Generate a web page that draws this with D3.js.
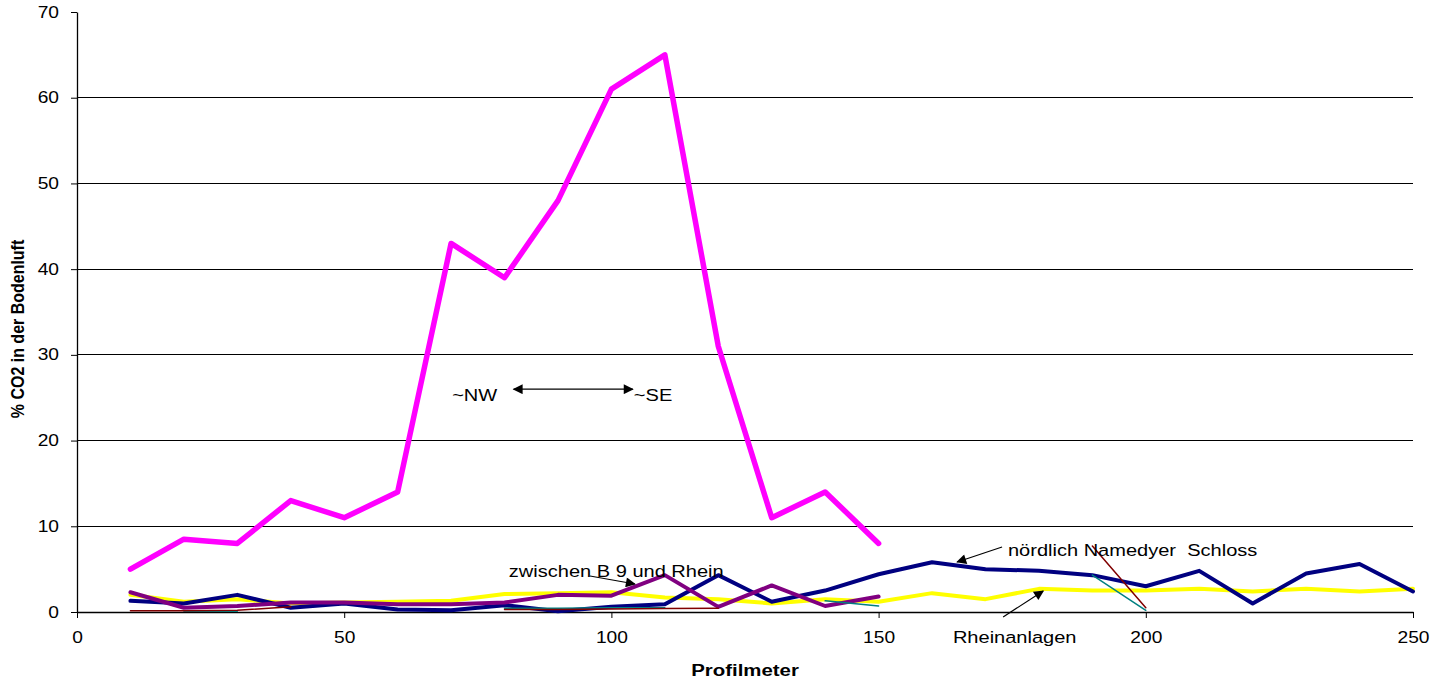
<!DOCTYPE html>
<html>
<head>
<meta charset="utf-8">
<script src="https://cdn.jsdelivr.net/npm/d3@7"></script>
<style>
  body { margin: 0; background: #fff; }
  text { font-family: "Liberation Sans", Arial, sans-serif; }
</style>
</head>
<body>
<div id="chart"></div>
<script>
const width = 1450;
const height = 686;

// Profilmeter
const meters = [10, 20, 30, 40, 50, 60, 70, 80, 90, 100, 110, 120, 130, 140, 150,
  160, 170, 180, 190, 200, 210, 220, 230, 240, 250];

// % CO2, one array per line (null = no value)
const magenta = [5, 8.5, 8, 13, 11, 14, 43, 39, 48, 61, 65, 31, 11, 14, 8];
const navy = [1.3, 1.0, 2.0, 0.5, 1.0, 0.3, 0.2, 0.8, 0.1, 0.6, 0.9, 4.3, 1.2, 2.5, 4.4,
  5.8, 5.0, 4.8, 4.3, 3.0, 4.8, 1.0, 4.5, 5.6, 2.4];
const yellow = [2.0, 1.2, 1.5, 1.0, 1.1, 1.2, 1.3, 2.1, 2.2, 2.3, 1.7, 1.5, 1.0, 1.5, 1.2,
  2.2, 1.5, 2.7, 2.5, 2.5, 2.7, 2.4, 2.7, 2.4, 2.7];
const purple = [2.3, 0.5, 0.7, 1.1, 1.1, 0.9, 0.9, 1.1, 2.0, 1.9, 4.3, 0.6, 3.1, 0.7, 1.8];
const darkred = [0.15, 0.15, 0.2, 0.6, null, null, null, 0.3, 0.3, 0.35, 0.4, 0.45, null, null, null,
  null, null, null, 7.7, 0.5];
const teal = [null, 0.1, 0.1, null, null, null, null, 0.45, 0.45, 0.5, 0.5, null, null, 1.3, 0.7,
  null, null, null, 4.3, 0.2];

const xTicks = [0, 50, 100, 150, 200, 250];
const yTicks = [0, 10, 20, 30, 40, 50, 60, 70];

// annotations in data units
const notes = [
  { text: "~NW", x: 70.2, y: 24.6 },
  { text: "~SE", x: 104.2, y: 24.6 },
  { text: "zwischen B 9 und Rhein", x: 80.8, y: 4.08 },
  { text: "nördlich Namedyer\u00a0 Schloss", x: 174.2, y: 6.53 },
  { text: "Rheinanlagen", x: 163.9, y: -3.62 }
];
const arrows = [
  { x1: 81.7, y1: 26.0, x2: 104.0, y2: 26.0, both: true },
  { x1: 96.0, y1: 4.2, x2: 104.4, y2: 3.27 },
  { x1: 173.1, y1: 7.58, x2: 164.7, y2: 5.83 },
  { x1: 173.3, y1: -0.58, x2: 180.8, y2: 2.45 }
];

const margin = { top: 12, right: 37, bottom: 74, left: 77 };
const stretch = 1.2; // text in the picture is drawn a bit wide

const svg = d3.select("#chart")
  .append("svg")
  .attr("width", width)
  .attr("height", height);

const defs = svg.append("defs");
defs.append("marker")
  .attr("id", "head")
  .attr("viewBox", "0 0 10 10")
  .attr("refX", 9).attr("refY", 5)
  .attr("markerWidth", 16).attr("markerHeight", 10)
  .attr("markerUnits", "userSpaceOnUse")
  .attr("orient", "auto-start-reverse")
  .append("path")
  .attr("d", "M0,0 L10,5 L0,10 Z")
  .attr("fill", "#000");

const x = d3.scaleLinear().domain([0, 250]).range([margin.left, width - margin.right]);
const y = d3.scaleLinear().domain([0, 70]).range([height - margin.bottom, margin.top]);

// grid lines
svg.append("g")
  .selectAll("line")
  .data(yTicks.filter(d => d > 0 && d < 70))
  .enter()
  .append("line")
  .attr("x1", x(0)).attr("x2", x(250))
  .attr("y1", d => y(d)).attr("y2", d => y(d))
  .attr("stroke", "#000")
  .attr("shape-rendering", "crispEdges");

// axes
const xAxis = svg.append("g")
  .attr("transform", `translate(0,${y(0)})`)
  .call(d3.axisBottom(x).tickValues(xTicks).tickSize(6).tickSizeOuter(0).tickPadding(14));
const yAxis = svg.append("g")
  .attr("transform", `translate(${x(0)},0)`)
  .call(d3.axisLeft(y).tickValues(yTicks).tickSize(6).tickSizeOuter(0).tickPadding(9));

[xAxis, yAxis].forEach(a => {
  a.select(".domain").attr("stroke", "#000").attr("stroke-width", 1.3);
  a.selectAll(".tick line").attr("stroke", "#000");
  a.selectAll(".tick text")
    .style("font-family", "'Liberation Sans', Arial, sans-serif")
    .style("font-size", "16px")
    .attr("fill", "#000")
    .attr("transform", `scale(${stretch},1)`);
});

// series
const line = d3.line()
  .defined(d => d[1] !== null && d[1] !== undefined)
  .x(d => x(d[0]))
  .y(d => y(d[1]));

const series = [
  { values: magenta, color: "#FF00FF", w: 5.5 },
  { values: yellow, color: "#FFFF00", w: 4 },
  { values: navy, color: "#000080", w: 4 },
  { values: purple, color: "#800080", w: 4 },
  { values: teal, color: "#008080", w: 1.5 },
  { values: darkred, color: "#800000", w: 1.5 }
];

svg.append("g")
  .selectAll("path")
  .data(series)
  .enter()
  .append("path")
  .attr("d", s => line(s.values.map((v, i) => [meters[i], v])))
  .attr("fill", "none")
  .attr("stroke", s => s.color)
  .attr("stroke-width", s => s.w)
  .attr("stroke-linejoin", "round")
  .attr("stroke-linecap", "round");

// arrows
svg.append("g")
  .selectAll("line")
  .data(arrows)
  .enter()
  .append("line")
  .attr("x1", d => x(d.x1)).attr("y1", d => y(d.y1))
  .attr("x2", d => x(d.x2)).attr("y2", d => y(d.y2))
  .attr("stroke", "#000")
  .attr("stroke-width", 1.2)
  .attr("marker-end", "url(#head)")
  .attr("marker-start", d => d.both ? "url(#head)" : null);

// annotation texts
svg.append("g")
  .selectAll("text")
  .data(notes)
  .enter()
  .append("text")
  .attr("transform", d => `translate(${x(d.x)},${y(d.y)}) scale(${stretch},1)`)
  .text(d => d.text)
  .style("font-size", "16.7px")
  .attr("fill", "#000");

// axis titles
svg.append("text")
  .attr("transform", `translate(${(x(0) + x(250)) / 2},${height - 10}) scale(${stretch},1)`)
  .attr("text-anchor", "middle")
  .style("font-size", "17px")
  .style("font-weight", "bold")
  .text("Profilmeter");

svg.append("text")
  .attr("transform", `translate(24,${(y(0) + y(70)) / 2 + 17}) scale(${stretch},1) rotate(-90)`)
  .attr("text-anchor", "middle")
  .style("font-size", "16px")
  .style("font-weight", "bold")
  .text("% CO2 in der Bodenluft");
</script>
</body>
</html>
